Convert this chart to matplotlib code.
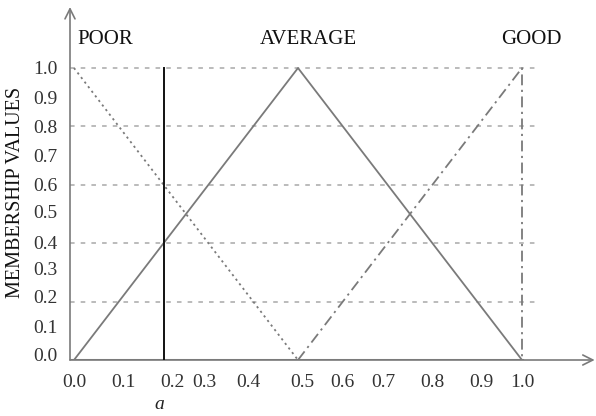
import matplotlib
matplotlib.use("Agg")
import matplotlib.pyplot as plt

plt.rcParams['font.family'] = ['Liberation Serif', 'DejaVu Serif']

# membership functions
poor_x = [0.0, 0.5]
poor_y = [1.0, 0.0]
avg_x = [0.0, 0.5, 1.0]
avg_y = [0.0, 1.0, 0.0]
good_x = [0.5, 1.0, 1.0]
good_y = [0.0, 1.0, 0.0]
a_value = 0.2

# axis labels (labels are not evenly placed in the original)
xtick_labels = ["0.0", "0.1", "0.2", "0.3", "0.4", "0.5", "0.6", "0.7", "0.8", "0.9", "1.0"]
xtick_pos = [0.0, 0.11, 0.22, 0.29, 0.39, 0.51, 0.60, 0.69, 0.80, 0.91, 1.0]
ytick_labels = ["0.0", "0.1", "0.2", "0.3", "0.4", "0.5", "0.6", "0.7", "0.8", "0.9", "1.0"]
ytick_pos = [0.02, 0.116, 0.216, 0.315, 0.404, 0.507, 0.60, 0.70, 0.80, 0.90, 1.0]
grid_vals = [0.2, 0.4, 0.6, 0.8, 1.0]
set_names = ["POOR", "AVERAGE", "GOOD"]

W, H = 596, 416
fig = plt.figure(figsize=(W / 100, H / 100), dpi=100)
# pixel geometry: x=0 -> 74px, x=1 -> 522px ; y=0 -> 360px, y=1 -> 68px
left_px, right_px, bot_px, top_px = 70, 596, 360, 7
ax = fig.add_axes([left_px / W, 1 - bot_px / H, (right_px - left_px) / W, (bot_px - top_px) / H])
ax.set_xlim((left_px - 74) / 448, (right_px - 74) / 448)
ax.set_ylim(0, (bot_px - top_px) / 292)
for s in ax.spines.values():
    s.set_visible(False)

grey = "#7a7a7a"
x0 = ax.get_xlim()[0]

# grid lines
for g in grid_vals:
    ax.plot([x0, 1.036], [g, g], color="#a8a8a8", lw=1.1, ls=(0, (3, 4)), zorder=1)

ax.plot(poor_x, poor_y, color=grey, lw=1.3, ls=(0, (1.2, 2)), zorder=3)
ax.plot(avg_x, avg_y, color=grey, lw=1.3, zorder=3)
ax.plot(good_x, good_y, color=grey, lw=1.3, ls=(0, (6, 2.5, 1.2, 2.5)), zorder=3)
ax.plot([a_value, a_value], [0, 1], color="#111111", lw=1.4, zorder=4)
ax.plot([x0, 1.0], [0, 0], color=grey, lw=2.2, zorder=2)

# axes with arrows
arrow = dict(arrowstyle="->", color=grey, lw=1.2, mutation_scale=18, shrinkA=0, shrinkB=0)
ax.annotate("", xy=(x0, ax.get_ylim()[1]), xytext=(x0, 0), arrowprops=arrow, annotation_clip=False)
ax.annotate("", xy=(ax.get_xlim()[1] - 0.003, 0), xytext=(x0, 0), arrowprops=arrow, annotation_clip=False)

ax.set_xticks(xtick_pos)
ax.set_xticklabels(xtick_labels)
ax.set_yticks(ytick_pos)
ax.set_yticklabels(ytick_labels)
ax.tick_params(length=0, labelsize=14, colors="#333333")
ax.tick_params(axis="y", pad=9)
ax.tick_params(axis="x", pad=10)

ax.set_ylabel("MEMBERSHIP VALUES", fontsize=14.5, color="#111111")
ax.yaxis.set_label_coords(-0.086, 0.476)

ax.text(0.19, -0.152, "a", fontsize=14, style="italic", color="#222222", ha="center", va="center")

name_x = [0.007, 0.523, 1.02]
name_ha = ["left", "center", "center"]
for nm, xx, ha in zip(set_names, name_x, name_ha):
    ax.text(xx, 1.099, nm, fontsize=15, color="#111111", ha=ha, va="center")

fig.savefig("out.png", dpi=100)
